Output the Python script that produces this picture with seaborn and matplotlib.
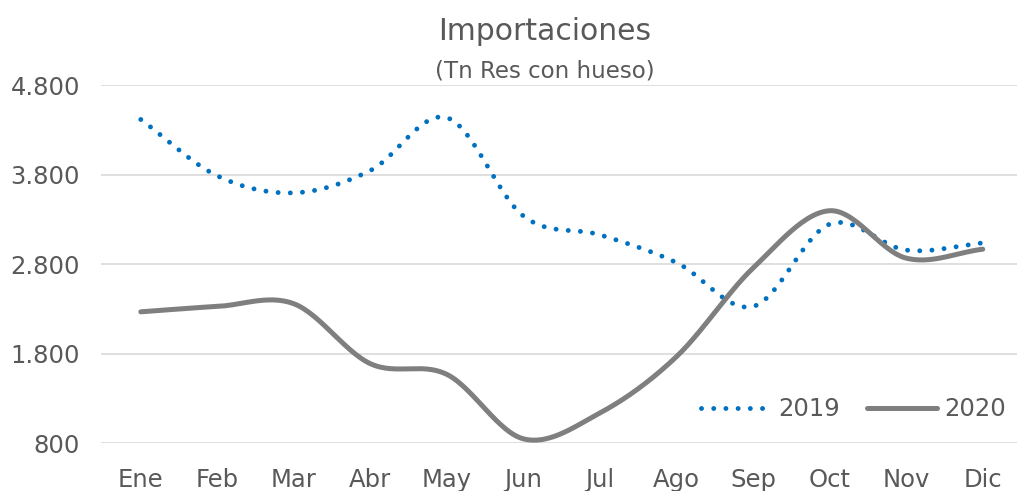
import matplotlib
matplotlib.use("Agg")
import matplotlib.pyplot as plt
from matplotlib.ticker import FuncFormatter
import numpy as np
import pandas as pd
import seaborn as sns

months = ["Ene", "Feb", "Mar", "Abr", "May", "Jun", "Jul", "Ago", "Sep", "Oct", "Nov", "Dic"]
imports_2019 = [4420, 3790, 3600, 3850, 4440, 3340, 3130, 2820, 2330, 3250, 2960, 3040]
imports_2020 = [2270, 2330, 2360, 1690, 1570, 850, 1140, 1770, 2760, 3400, 2870, 2970]
y_ticks = [800, 1800, 2800, 3800, 4800]

TEXT = "#595959"


def smooth(values, steps=30):
    """Catmull-Rom curve through the points, like Excel's smoothed line"""
    p = np.asarray(values, dtype=float)
    ext = np.concatenate([[2 * p[0] - p[1]], p, [2 * p[-1] - p[-2]]])
    xs, ys = [], []
    for i in range(len(p) - 1):
        p0, p1, p2, p3 = ext[i], ext[i + 1], ext[i + 2], ext[i + 3]
        m1, m2 = (p2 - p0) / 2, (p3 - p1) / 2
        t = np.linspace(0, 1, steps, endpoint=False)
        h00, h10 = 2 * t**3 - 3 * t**2 + 1, t**3 - 2 * t**2 + t
        h01, h11 = -2 * t**3 + 3 * t**2, t**3 - t**2
        xs.append(i + t)
        ys.append(h00 * p1 + h10 * m1 + h01 * p2 + h11 * m2)
    xs.append([len(p) - 1])
    ys.append([p[-1]])
    return np.concatenate(xs), np.concatenate(ys)


sns.set_style("white")
plt.rcParams["font.family"] = ["DejaVu Sans"]

fig = plt.figure(figsize=(10.18, 4.91), dpi=100)
ax = fig.add_axes([0.0992, 0.0971, 0.9, 0.7288])

x19, y19 = smooth(imports_2019)
x20, y20 = smooth(imports_2020)
df = pd.concat([
    pd.DataFrame({"x": x19, "y": y19, "serie": "2019"}),
    pd.DataFrame({"x": x20, "y": y20, "serie": "2020"}),
])

sns.lineplot(data=df[df.serie == "2019"], x="x", y="y", ax=ax, color="#0070C0", lw=3.5,
             label="2019", sort=False)
ax.lines[-1].set_linestyle((0, (0.01, 2.5)))
ax.lines[-1].set_dash_capstyle("round")
sns.lineplot(data=df[df.serie == "2020"], x="x", y="y", ax=ax, color="#7F7F7F", lw=3.6,
             label="2020", sort=False)
ax.lines[-1].set_solid_capstyle("round")

ax.set_xlim(-0.52, 11.45)
ax.set_ylim(800, 4800)
ax.set_xticks(range(len(months)))
ax.set_xticklabels(months)
ax.set_yticks(y_ticks)
ax.yaxis.set_major_formatter(FuncFormatter(lambda v, _: f"{int(v):,}".replace(",", ".")))
ax.grid(axis="y", color="#D9D9D9", lw=1.2)
ax.set_axisbelow(True)
for s in ax.spines.values():
    s.set_visible(False)
ax.tick_params(axis="both", length=0, labelsize=17.5, labelcolor=TEXT)
ax.tick_params(axis="y", pad=15)
ax.tick_params(axis="x", pad=18)
ax.set_xlabel("")
ax.set_ylabel("")

leg = ax.legend(loc="lower right", bbox_to_anchor=(1.012, 0.0), ncol=2, frameon=False,
                fontsize=17.5, handlelength=2.9, handletextpad=0.3, columnspacing=1.1,
                labelcolor=TEXT)

fig.text(0.535, 0.935, "Importaciones", ha="center", va="center", fontsize=21.5, color=TEXT)
fig.text(0.535, 0.855, "(Tn Res con hueso)", ha="center", va="center", fontsize=16.5, color=TEXT)

fig.savefig("out.png", dpi=100)
